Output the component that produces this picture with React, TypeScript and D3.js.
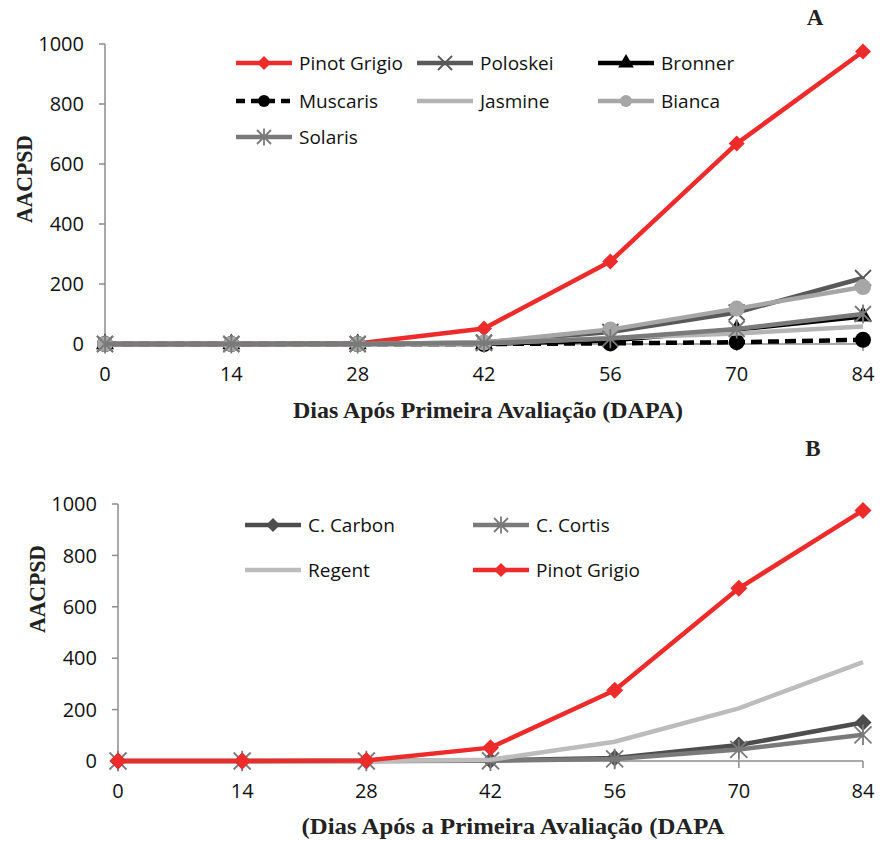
import React from "react";
import * as d3 from "d3";

const days = [0, 14, 28, 42, 56, 70, 84];
const yTicks = [0, 200, 400, 600, 800, 1000];

// Panel A
const pinotA = [0, 0, 2, 52, 275, 668, 975];
const poloskei = [0, 0, 0, 5, 40, 105, 220];
const bronner = [0, 0, 0, 0, 12, 48, 92];
const muscaris = [0, 0, 0, 0, 2, 6, 14];
const jasmine = [0, 0, 0, 2, 20, 35, 58];
const bianca = [0, 0, 0, 5, 48, 118, 190];
const solaris = [0, 0, 0, 3, 18, 50, 100];

// Panel B
const cCarbon = [0, 0, 0, 2, 12, 62, 150];
const cCortis = [0, 0, 0, 1, 8, 45, 102];
const regent = [0, 0, 0, 5, 75, 205, 385];
const pinotB = [0, 0, 2, 52, 275, 672, 975];

type Marker = "diamond" | "x" | "triangle" | "circle" | "none" | "asterisk";
interface Series { name: string; values: number[]; color: string; marker: Marker; dash?: string; }

const seriesA: Series[] = [
  { name: "Pinot Grigio", values: pinotA, color: "#ee2b2b", marker: "diamond" },
  { name: "Poloskei", values: poloskei, color: "#595959", marker: "x" },
  { name: "Bronner", values: bronner, color: "#000000", marker: "triangle" },
  { name: "Muscaris", values: muscaris, color: "#000000", marker: "circle", dash: "11,6" },
  { name: "Jasmine", values: jasmine, color: "#b4b4b4", marker: "none" },
  { name: "Bianca", values: bianca, color: "#a6a6a6", marker: "circle" },
  { name: "Solaris", values: solaris, color: "#7a7a7a", marker: "asterisk" },
];

const seriesB: Series[] = [
  { name: "C. Carbon", values: cCarbon, color: "#4d4d4d", marker: "diamond" },
  { name: "C. Cortis", values: cCortis, color: "#7a7a7a", marker: "asterisk" },
  { name: "Regent", values: regent, color: "#bcbcbc", marker: "none" },
  { name: "Pinot Grigio", values: pinotB, color: "#ee2b2b", marker: "diamond" },
];

function MarkerShape({ type, x, y, color, size }: { type: Marker; x: number; y: number; color: string; size: number }) {
  const s = size;
  switch (type) {
    case "diamond":
      return <path d={`M${x},${y - s}L${x + s},${y}L${x},${y + s}L${x - s},${y}Z`} fill={color} />;
    case "x":
      return <path d={`M${x - s},${y - s}L${x + s},${y + s}M${x - s},${y + s}L${x + s},${y - s}`} stroke={color} strokeWidth={1.8} fill="none" />;
    case "asterisk":
      return <path d={`M${x - s},${y - s}L${x + s},${y + s}M${x - s},${y + s}L${x + s},${y - s}M${x},${y - s * 1.2}L${x},${y + s * 1.2}`} stroke={color} strokeWidth={1.8} fill="none" />;
    case "triangle":
      return <path d={d3.symbol(d3.symbolTriangle, s * s * 2.2)()!} transform={`translate(${x},${y})`} fill={color} />;
    case "circle":
      return <circle cx={x} cy={y} r={s} fill={color} />;
    default:
      return null;
  }
}

interface PanelProps {
  series: Series[];
  x0: number; x1: number; y0: number; y1: number;
  tag: string; tagX: number; tagY: number;
  xTitle: string; xTitleX: number; xTitleY: number; xTitleW: number;
  yTitleX: number; yTitleY: number;
  legend: { x: number; y: number }[];
  lineW: number;
  markerSize: number;
}

const serif = "'Liberation Serif', 'DejaVu Serif', serif";
const sans = "'Open Sans', sans-serif";

function Panel(p: PanelProps) {
  const x = d3.scaleLinear().domain([0, 84]).range([p.x0, p.x1]);
  const y = d3.scaleLinear().domain([0, 1000]).range([p.y0, p.y1]);
  const line = d3.line<number>().x((_, i) => x(days[i])).y((v) => y(v));
  const axisColor = "#8c8c8c";
  return (
    <g>
      {/* y axis */}
      <line x1={p.x0} x2={p.x0} y1={y(0)} y2={y(1000)} stroke={axisColor} strokeWidth={1.5} />
      {yTicks.map((t) => (
        <g key={t}>
          <line x1={p.x0 - 6} x2={p.x0} y1={y(t)} y2={y(t)} stroke={axisColor} strokeWidth={1.5} />
          <text x={p.x0 - 21} y={y(t)} dy="0.36em" textAnchor="end" fontSize={20} fontFamily={sans} fill="#111">{t}</text>
        </g>
      ))}
      {/* x axis */}
      <line x1={p.x0} x2={p.x1} y1={y(0)} y2={y(0)} stroke={axisColor} strokeWidth={1.5} />
      {days.map((d) => (
        <g key={d}>
          <line x1={x(d)} x2={x(d)} y1={y(0)} y2={y(0) + 7} stroke={axisColor} strokeWidth={1.5} />
          <text x={x(d)} y={y(0) + 37} textAnchor="middle" fontSize={20} fontFamily={sans} fill="#111">{d}</text>
        </g>
      ))}
      {/* series */}
      {p.series.map((s) => (
        <g key={s.name}>
          <path d={line(s.values)!} fill="none" stroke={s.color} strokeWidth={p.lineW} strokeDasharray={s.dash} strokeLinejoin="round" />
          {s.values.map((v, i) => (
            <MarkerShape key={i} type={s.marker} x={x(days[i])} y={y(v)} color={s.color} size={p.markerSize} />
          ))}
        </g>
      ))}
      {/* legend */}
      {p.series.map((s, i) => {
        const L = p.legend[i];
        return (
          <g key={"lg" + s.name}>
            <line x1={L.x} x2={L.x + 56} y1={L.y} y2={L.y} stroke={s.color} strokeWidth={p.lineW} strokeDasharray={s.dash ? "9,6" : undefined} />
            <MarkerShape type={s.marker} x={L.x + 28} y={L.y} color={s.color} size={s.marker === "circle" ? 6 : 7} />
            <text x={L.x + 63} y={L.y} dy="0.35em" fontSize={19} fontFamily={sans} fill="#111">{s.name}</text>
          </g>
        );
      })}
      {/* titles */}
      <text x={p.xTitleX} y={p.xTitleY} textAnchor="middle" fontSize={23} fontWeight="bold" fontFamily={serif} fill="#222" textLength={p.xTitleW} lengthAdjust="spacingAndGlyphs">{p.xTitle}</text>
      <text transform={`translate(${p.yTitleX},${p.yTitleY}) rotate(-90)`} textAnchor="middle" fontSize={24} fontWeight="bold" fontFamily={serif} fill="#222" textLength={88} lengthAdjust="spacingAndGlyphs">AACPSD</text>
      <text x={p.tagX} y={p.tagY} textAnchor="middle" fontSize={23} fontWeight="bold" fontFamily={serif} fill="#222">{p.tag}</text>
    </g>
  );
}

export default function App() {
  return (
    <svg width={880} height={841} style={{ position: "absolute", left: 0, top: 0, background: "#fff" }}>
      <Panel
        series={seriesA}
        x0={105} x1={863} y0={344} y1={44}
        tag="A" tagX={815} tagY={25}
        xTitle="Dias Após Primeira Avaliação (DAPA)" xTitleX={488} xTitleY={418} xTitleW={390}
        yTitleX={32} yTitleY={179}
        legend={[
          { x: 236, y: 63 }, { x: 417, y: 63 }, { x: 598, y: 63 },
          { x: 236, y: 101 }, { x: 417, y: 101 }, { x: 598, y: 101 },
          { x: 236, y: 137 },
        ]}
        lineW={4.5}
        markerSize={8}
      />
      <Panel
        series={seriesB}
        x0={118} x1={863} y0={761} y1={504}
        tag="B" tagX={813} tagY={456}
        xTitle="(Dias Após a Primeira Avaliação (DAPA" xTitleX={513} xTitleY={834} xTitleW={423}
        yTitleX={45} yTitleY={589}
        legend={[
          { x: 245, y: 525 }, { x: 473, y: 525 },
          { x: 245, y: 570 }, { x: 473, y: 570 },
        ]}
        lineW={4.5}
        markerSize={8.5}
      />
    </svg>
  );
}
